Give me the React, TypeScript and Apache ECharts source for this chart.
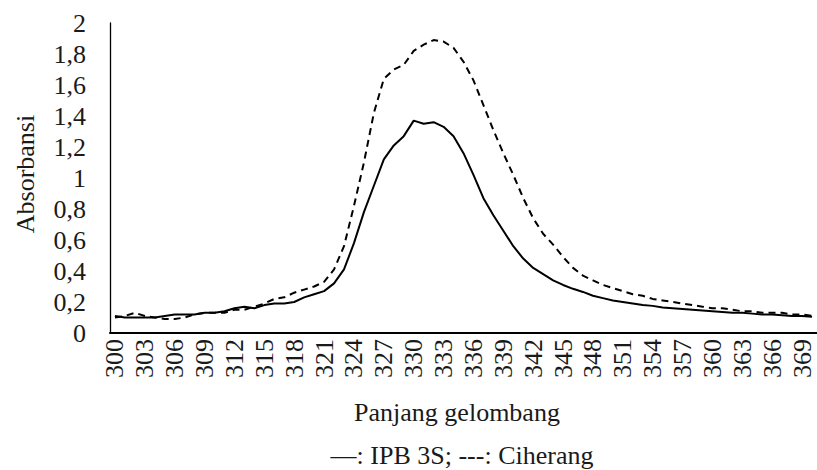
import React, { useEffect, useRef } from "react";
import * as echarts from "echarts";

const categories: string[] = [];
for (let c = 300; c <= 370; c++) categories.push(String(c));

const ipb3s: number[] = [
  0.11, 0.10, 0.10, 0.10, 0.10, 0.11, 0.12, 0.12, 0.12, 0.13,
  0.13, 0.14, 0.16, 0.17, 0.16, 0.18, 0.19, 0.19, 0.20, 0.23,
  0.25, 0.27, 0.32, 0.41, 0.58, 0.78, 0.95, 1.12, 1.21, 1.27,
  1.37, 1.35, 1.36, 1.33, 1.27, 1.16, 1.02, 0.87, 0.76, 0.66,
  0.56, 0.48, 0.42, 0.38, 0.34, 0.31, 0.285, 0.265, 0.24, 0.225,
  0.21, 0.20, 0.19, 0.18, 0.175, 0.165, 0.16, 0.155, 0.15, 0.145,
  0.14, 0.135, 0.13, 0.13, 0.125, 0.12, 0.12, 0.115, 0.11, 0.11,
  0.105,
];

const ciherang: number[] = [
  0.10, 0.11, 0.13, 0.11, 0.10, 0.09, 0.09, 0.10, 0.12, 0.13,
  0.13, 0.13, 0.15, 0.15, 0.17, 0.19, 0.22, 0.23, 0.26, 0.28,
  0.30, 0.33, 0.41, 0.56, 0.82, 1.10, 1.42, 1.64, 1.70, 1.73,
  1.82, 1.86, 1.89, 1.88, 1.84, 1.75, 1.63, 1.47, 1.31, 1.16,
  1.02, 0.87, 0.74, 0.64, 0.57, 0.49, 0.42, 0.37, 0.34, 0.31,
  0.29, 0.27, 0.25, 0.24, 0.22, 0.21, 0.20, 0.19, 0.18, 0.17,
  0.16, 0.16, 0.15, 0.14, 0.14, 0.13, 0.13, 0.13, 0.12, 0.12,
  0.11,
];

const yTitle = "Absorbansi";
const xTitle = "Panjang gelombang";
const legendText = "\u2014: IPB 3S; ---: Ciherang";

const FONT = "\"Times New Roman\", \"Liberation Serif\", \"DejaVu Serif\", serif";
const TEXT = "#1a1a1a";

export default function App() {
  const ref = useRef<HTMLDivElement>(null);
  useEffect(() => {
    if (!ref.current) return;
    const chart = echarts.init(ref.current, null, { renderer: "svg" });
    const titleStyle = (text: string) => ({
      text,
      fill: TEXT,
      fontFamily: FONT,
      fontSize: 26,
      align: "center",
      verticalAlign: "middle",
    });
    chart.setOption({
      animation: false,
      backgroundColor: "#fff",
      textStyle: { fontFamily: FONT },
      grid: { left: 110, right: 0, top: 23, bottom: 137, containLabel: false },
      xAxis: {
        type: "category",
        data: categories,
        boundaryGap: true,
        axisLine: { show: true, lineStyle: { color: "#000", width: 2 } },
        axisTick: { show: false },
        axisLabel: {
          interval: 2,
          rotate: 90,
          margin: 6,
          color: TEXT,
          fontFamily: FONT,
          fontSize: 26,
        },
        splitLine: { show: false },
      },
      yAxis: {
        type: "value",
        min: 0,
        max: 2,
        interval: 0.2,
        axisLine: { show: true, lineStyle: { color: "#000", width: 1.3 } },
        axisTick: { show: false },
        splitLine: { show: false },
        axisLabel: {
          margin: 24,
          color: TEXT,
          fontFamily: FONT,
          fontSize: 26,
          formatter: (v: number) => String(Math.round(v * 10) / 10).replace(".", ","),
        },
      },
      series: [
        {
          name: "IPB 3S",
          type: "line",
          data: ipb3s,
          showSymbol: false,
          smooth: false,
          lineStyle: { color: "#000", width: 2 },
        },
        {
          name: "Ciherang",
          type: "line",
          data: ciherang,
          showSymbol: false,
          smooth: false,
          lineStyle: { color: "#000", width: 2, type: [7, 5] },
        },
      ],
      graphic: [
        {
          type: "text",
          x: 25,
          y: 174,
          rotation: Math.PI / 2,
          style: titleStyle(yTitle),
        },
        {
          type: "text",
          x: 457,
          y: 412,
          style: titleStyle(xTitle),
        },
        {
          type: "text",
          x: 462,
          y: 455,
          style: titleStyle(legendText),
        },
      ],
    });
    return () => chart.dispose();
  }, []);
  return <div ref={ref} style={{ width: 817, height: 470, position: "absolute", left: 0, top: 0 }} />;
}
